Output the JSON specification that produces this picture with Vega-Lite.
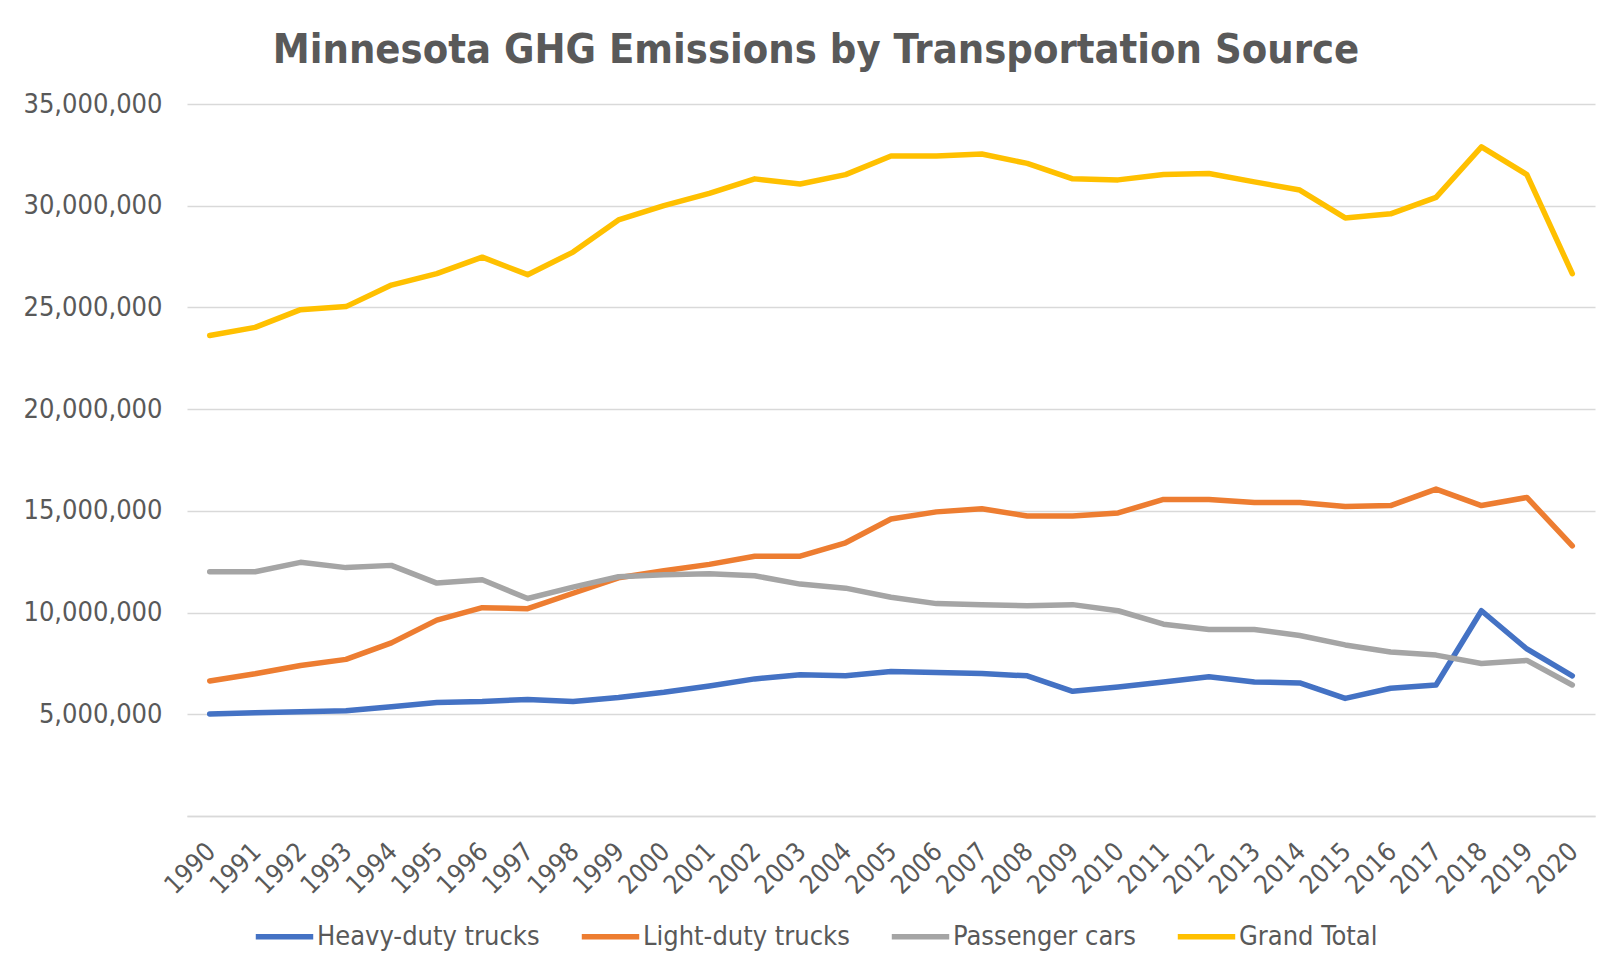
{
  "$schema": "https://vega.github.io/schema/vega-lite/v6.json",
  "autosize": {"type": "none"},
  "width": 1408,
  "height": 712,
  "padding": {"left": 187, "top": 104, "right": 22, "bottom": 155},
  "background": "white",
  "title": {
    "text": "Minnesota GHG Emissions by Transportation Source",
    "font": "DejaVu Sans Condensed",
    "fontSize": 41.3,
    "fontWeight": "bold",
    "color": "#595959",
    "anchor": "middle",
    "dx": -75,
    "offset": 19
  },
  "data": {
    "values": [
      {"year": "1990", "Heavy-duty trucks": 5020000, "Light-duty trucks": 6640000, "Passenger cars": 12010000, "Grand Total": 23620000},
      {"year": "1991", "Heavy-duty trucks": 5070000, "Light-duty trucks": 6990000, "Passenger cars": 12010000, "Grand Total": 24020000},
      {"year": "1992", "Heavy-duty trucks": 5120000, "Light-duty trucks": 7400000, "Passenger cars": 12470000, "Grand Total": 24890000},
      {"year": "1993", "Heavy-duty trucks": 5170000, "Light-duty trucks": 7700000, "Passenger cars": 12210000, "Grand Total": 25040000},
      {"year": "1994", "Heavy-duty trucks": 5370000, "Light-duty trucks": 8510000, "Passenger cars": 12320000, "Grand Total": 26100000},
      {"year": "1995", "Heavy-duty trucks": 5580000, "Light-duty trucks": 9630000, "Passenger cars": 11450000, "Grand Total": 26660000},
      {"year": "1996", "Heavy-duty trucks": 5630000, "Light-duty trucks": 10240000, "Passenger cars": 11610000, "Grand Total": 27470000},
      {"year": "1997", "Heavy-duty trucks": 5730000, "Light-duty trucks": 10190000, "Passenger cars": 10690000, "Grand Total": 26610000},
      {"year": "1998", "Heavy-duty trucks": 5630000, "Light-duty trucks": 10950000, "Passenger cars": 11250000, "Grand Total": 27720000},
      {"year": "1999", "Heavy-duty trucks": 5830000, "Light-duty trucks": 11710000, "Passenger cars": 11760000, "Grand Total": 29300000},
      {"year": "2000", "Heavy-duty trucks": 6080000, "Light-duty trucks": 12060000, "Passenger cars": 11860000, "Grand Total": 30000000},
      {"year": "2001", "Heavy-duty trucks": 6390000, "Light-duty trucks": 12370000, "Passenger cars": 11910000, "Grand Total": 30610000},
      {"year": "2002", "Heavy-duty trucks": 6740000, "Light-duty trucks": 12770000, "Passenger cars": 11810000, "Grand Total": 31320000},
      {"year": "2003", "Heavy-duty trucks": 6940000, "Light-duty trucks": 12770000, "Passenger cars": 11400000, "Grand Total": 31070000},
      {"year": "2004", "Heavy-duty trucks": 6890000, "Light-duty trucks": 13430000, "Passenger cars": 11200000, "Grand Total": 31530000},
      {"year": "2005", "Heavy-duty trucks": 7100000, "Light-duty trucks": 14600000, "Passenger cars": 10750000, "Grand Total": 32440000},
      {"year": "2006", "Heavy-duty trucks": 7050000, "Light-duty trucks": 14950000, "Passenger cars": 10440000, "Grand Total": 32440000},
      {"year": "2007", "Heavy-duty trucks": 7000000, "Light-duty trucks": 15100000, "Passenger cars": 10390000, "Grand Total": 32540000},
      {"year": "2008", "Heavy-duty trucks": 6890000, "Light-duty trucks": 14750000, "Passenger cars": 10340000, "Grand Total": 32080000},
      {"year": "2009", "Heavy-duty trucks": 6130000, "Light-duty trucks": 14750000, "Passenger cars": 10390000, "Grand Total": 31320000},
      {"year": "2010", "Heavy-duty trucks": 6340000, "Light-duty trucks": 14900000, "Passenger cars": 10090000, "Grand Total": 31270000},
      {"year": "2011", "Heavy-duty trucks": 6590000, "Light-duty trucks": 15560000, "Passenger cars": 9430000, "Grand Total": 31530000},
      {"year": "2012", "Heavy-duty trucks": 6840000, "Light-duty trucks": 15560000, "Passenger cars": 9170000, "Grand Total": 31580000},
      {"year": "2013", "Heavy-duty trucks": 6590000, "Light-duty trucks": 15410000, "Passenger cars": 9170000, "Grand Total": 31170000},
      {"year": "2014", "Heavy-duty trucks": 6540000, "Light-duty trucks": 15410000, "Passenger cars": 8870000, "Grand Total": 30770000},
      {"year": "2015", "Heavy-duty trucks": 5780000, "Light-duty trucks": 15210000, "Passenger cars": 8410000, "Grand Total": 29400000},
      {"year": "2016", "Heavy-duty trucks": 6280000, "Light-duty trucks": 15260000, "Passenger cars": 8060000, "Grand Total": 29600000},
      {"year": "2017", "Heavy-duty trucks": 6440000, "Light-duty trucks": 16070000, "Passenger cars": 7910000, "Grand Total": 30410000},
      {"year": "2018", "Heavy-duty trucks": 10090000, "Light-duty trucks": 15260000, "Passenger cars": 7500000, "Grand Total": 32890000},
      {"year": "2019", "Heavy-duty trucks": 8210000, "Light-duty trucks": 15660000, "Passenger cars": 7650000, "Grand Total": 31530000},
      {"year": "2020", "Heavy-duty trucks": 6890000, "Light-duty trucks": 13280000, "Passenger cars": 6440000, "Grand Total": 26660000}
    ]
  },
  "transform": [
    {"fold": ["Heavy-duty trucks", "Light-duty trucks", "Passenger cars", "Grand Total"], "as": ["series", "value"]}
  ],
  "mark": {"type": "line", "strokeWidth": 5.5, "strokeCap": "round", "strokeJoin": "round"},
  "encoding": {
    "x": {
      "field": "year",
      "type": "ordinal",
      "scale": {"type": "point", "padding": 0.5},
      "axis": {
        "title": null,
        "labelAngle": -45,
        "labelFont": "DejaVu Sans Condensed",
        "labelFontSize": 26,
        "labelColor": "#595959",
        "labelPadding": 22,
        "labelOffset": -8,
        "ticks": false,
        "grid": false,
        "domain": true,
        "domainColor": "#D9D9D9",
        "domainWidth": 1.5
      }
    },
    "y": {
      "field": "value",
      "type": "quantitative",
      "scale": {"domain": [0, 35000000], "nice": false, "zero": true},
      "axis": {
        "title": null,
        "values": [0, 5000000, 10000000, 15000000, 20000000, 25000000, 30000000, 35000000],
        "format": ",.0f",
        "labelExpr": "datum.value == 0 ? '' : datum.label",
        "labelFont": "DejaVu Sans Condensed",
        "labelFontSize": 27,
        "labelColor": "#595959",
        "labelPadding": 25,
        "ticks": false,
        "domain": false,
        "grid": true,
        "gridColor": "#D9D9D9",
        "gridWidth": 1.5
      }
    },
    "color": {
      "field": "series",
      "type": "nominal",
      "sort": ["Heavy-duty trucks", "Light-duty trucks", "Passenger cars", "Grand Total"],
      "scale": {
        "domain": ["Heavy-duty trucks", "Light-duty trucks", "Passenger cars", "Grand Total"],
        "range": ["#4472C4", "#ED7D31", "#A5A5A5", "#FFC000"]
      },
      "legend": {
        "title": null,
        "orient": "none",
        "direction": "horizontal",
        "legendX": 66,
        "legendY": 801,
        "symbolType": "stroke",
        "symbolStrokeWidth": 5.5,
        "symbolSize": 3300,
        "labelFont": "DejaVu Sans Condensed",
        "labelFontSize": 27,
        "labelColor": "#595959",
        "labelOffset": 1,
        "labelLimit": 400,
        "columnPadding": 30
      }
    }
  },
  "config": {
    "view": {"stroke": null}
  }
}
